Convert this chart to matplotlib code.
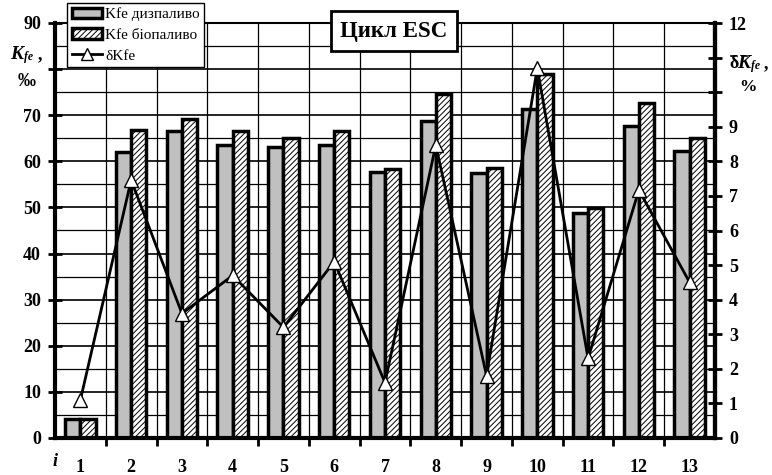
import matplotlib
matplotlib.use("Agg")
import matplotlib.pyplot as plt
import numpy as np
from matplotlib.patches import Patch
from matplotlib.lines import Line2D

categories = ["1", "2", "3", "4", "5", "6", "7", "8", "9", "10", "11", "12", "13"]
kfe_diesel = [4.1, 62.0, 66.6, 63.5, 63.1, 63.5, 57.6, 68.7, 57.5, 71.3, 48.8, 67.7, 62.2]
kfe_bio = [4.1, 66.7, 69.1, 66.6, 65.0, 66.6, 58.4, 74.6, 58.5, 78.9, 49.9, 72.6, 65.0]
delta_kfe = [1.1, 7.46, 3.6, 4.7, 3.2, 5.1, 1.6, 8.47, 1.8, 10.7, 2.3, 7.17, 4.5]
left_ticks = [0, 10, 20, 30, 40, 50, 60, 70, 80, 90]
left_labels = ["0", "10", "20", "30", "40", "50", "60", "70", "", "90"]
right_ticks = [0, 1, 2, 3, 4, 5, 6, 7, 8, 9, 10, 11, 12]
right_labels = ["0", "1", "2", "3", "4", "5", "6", "7", "8", "9", "", "", "12"]

plt.rcParams['font.family'] = ['Liberation Serif', 'DejaVu Serif']
plt.rcParams['hatch.linewidth'] = 0.7

fig = plt.figure(figsize=(7.72, 4.75), dpi=100)
ax = fig.add_axes([55/772, 1-438/475, 660/772, 415/475])
x = np.arange(len(categories))
bw = 0.3

ax.set_xlim(-0.5, len(categories) - 0.5)
ax.set_ylim(0, 90)

# grid
for v in np.arange(5, 90, 5):
    ax.axhline(v, color='black', lw=0.9 if v % 10 else 1.2, zorder=0)
for b in np.arange(0.5, len(categories) - 0.5, 1):
    ax.axvline(b, color='black', lw=0.9, zorder=0)

ax.bar(x - bw/2, kfe_diesel, bw, color='#c0c0c0', edgecolor='black', lw=2.5, zorder=2)
ax.bar(x + bw/2, kfe_bio, bw, color='white', edgecolor='black', lw=2.5, hatch='//////', zorder=2)

ax.set_yticks(left_ticks)
ax.set_yticklabels(left_labels, fontsize=13, fontweight='bold')
ax.tick_params(axis='y', direction='inout', length=10, width=2, pad=5)
ax.set_xticks(np.arange(0.5, len(categories) - 0.5, 1))
ax.set_xticklabels([])
ax.tick_params(axis='x', direction='out', length=6, width=2)
ax.tick_params(axis='y', which='both', right=False)
for s in ['left', 'bottom']:
    ax.spines[s].set_linewidth(3)
ax.spines['top'].set_linewidth(1.5)
ax.spines['right'].set_linewidth(3)

for i, c in enumerate(categories):
    ax.text(i, -0.07, c, transform=ax.get_xaxis_transform(), ha='center', va='center',
            fontsize=13, fontweight='bold')
fig.text(55/772, 1-462/475, 'i', fontsize=13, fontweight='bold', style='italic', ha='center', va='center')

ax2 = ax.twinx()
ax2.set_ylim(0, 12)
ax2.plot(x, delta_kfe, color='black', lw=2, marker='^', markersize=9.5,
         markerfacecolor='white', markeredgecolor='black', markeredgewidth=1, zorder=5)
ax2.set_yticks(right_ticks)
ax2.set_yticklabels(right_labels, fontsize=13, fontweight='bold')
ax2.tick_params(axis='y', direction='inout', length=10, width=2, pad=5)
ax2.spines['right'].set_linewidth(3)
ax2.spines['left'].set_visible(False)
ax2.spines['top'].set_visible(False)
ax2.spines['bottom'].set_visible(False)

# left axis title
fig.text(10/772, 1-59/475, 'K', fontsize=14, fontweight='bold', style='italic', ha='left', va='baseline')
fig.text(24/772, 1-60/475, 'fe', fontsize=8.5, fontweight='bold', style='italic', ha='left', va='baseline')
fig.text(38/772, 1-59/475, ',', fontsize=13, fontweight='bold', ha='left', va='baseline')
fig.text(27/772, 1-73/475, '‰', fontsize=13, fontweight='bold', ha='center', va='top')

# right axis title
fig.text(729/772, 1-68/475, 'δ', fontsize=13, fontweight='bold', ha='left', va='baseline')
fig.text(737/772, 1-68/475, 'K', fontsize=14, fontweight='bold', style='italic', ha='left', va='baseline')
for x0, x1 in [(731, 736), (742, 747)]:
    fig.add_artist(Line2D([x0/772, x1/772], [1-56/475, 1-56/475], color='black', lw=1.2,
                          transform=fig.transFigure))
fig.text(751/772, 1-69/475, 'fe', fontsize=8.5, fontweight='bold', style='italic', ha='left', va='baseline')
fig.text(764/772, 1-68/475, ',', fontsize=13, fontweight='bold', ha='left', va='baseline')
fig.text(748/772, 1-91/475, '%', fontsize=12.5, fontweight='bold', ha='center', va='baseline')

# title box
fig.text(394/772, 1-31/475, 'Цикл ESC', fontsize=16.5, fontweight='bold', ha='center', va='center',
         bbox=dict(boxstyle='square,pad=0.4', facecolor='white', edgecolor='black', lw=2), zorder=10)

handles = [Patch(facecolor='#c0c0c0', edgecolor='black', lw=2.5),
           Patch(facecolor='white', edgecolor='black', lw=2.5, hatch='//////'),
           Line2D([0], [0], color='black', lw=2, marker='^', markersize=8,
                  markerfacecolor='white', markeredgecolor='black')]
leg = fig.legend(handles, ['Kfe дизпаливо', 'Kfe біопаливо', 'δKfe'],
                 loc='upper left', bbox_to_anchor=(67/772, 1-3/475), fontsize=11,
                 frameon=True, fancybox=False, framealpha=1, edgecolor='black',
                 borderpad=0.3, labelspacing=0.45, handlelength=2.0, handletextpad=0.2,
                 borderaxespad=0)
leg.get_frame().set_linewidth(1)
leg.set_zorder(10)

fig.savefig('out.png', dpi=100)
